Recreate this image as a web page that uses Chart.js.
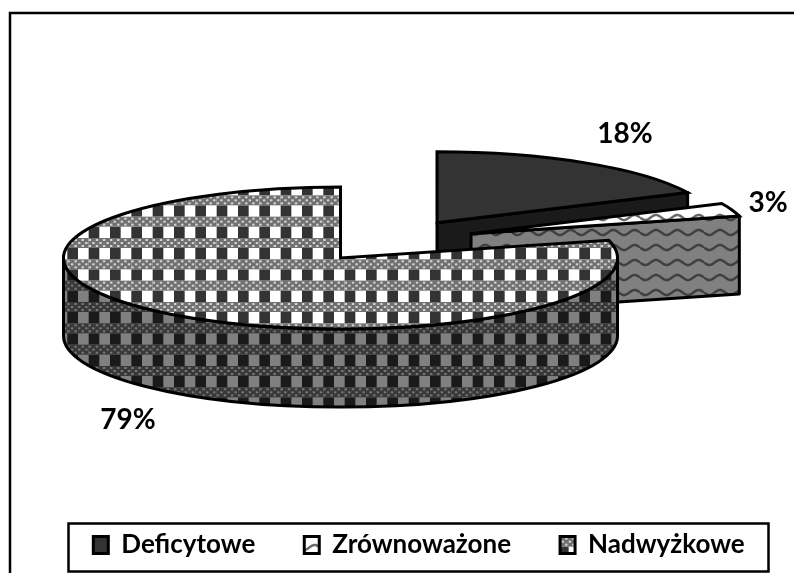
<!DOCTYPE html>
<html lang="pl">
<head>
<meta charset="utf-8">
<title>Deficytowe / Zrównoważone / Nadwyżkowe</title>
<script src="https://cdn.jsdelivr.net/npm/chart.js@4"></script>
<style>
    html, body { margin: 0; padding: 0; background: #fff; overflow: hidden; }
    canvas { display: block; }
</style>
</head>
<body>
<canvas id="pie3d" width="794" height="573"></canvas>
<script>
// Dane
const categories = ['Deficytowe', 'Zrównoważone', 'Nadwyżkowe'];
const shares = [18, 3, 79];

// Uklad "3D" (w pikselach)
const pieCenter = { x: 392, y: 241 };
const pieRadius = 277;
const squash = 71 / 277;
const wallDepth = 78;
const explode = 84;
const outline = 3;
const labelAnchors = [[625, 134], [768, 203], [128, 420]];
const labelFont = 'bold 28px Lato';
const legendTop = 483;
const legendShift = 22;

// Tekstura: kratka z kropkowanymi pasami
function checkTile(darkColor, lightColor, bandDark, bandLight) {
    const c = document.createElement('canvas');
    c.width = 64;
    c.height = 64;
    const g = c.getContext('2d');
    const step = 64 / 3;
    g.translate(3.33, 3.33);
    g.fillStyle = lightColor;
    g.fillRect(-64, -64, 192, 192);
    for (let r = -1; r < 4; r++) {
        for (let q = -1; q < 4; q++) {
            g.fillStyle = darkColor;
            g.fillRect(q * step, r * step + 10, step / 2, step - 10);
            g.fillStyle = bandDark;
            g.fillRect(q * step, r * step, step, 10);
            g.fillStyle = bandLight;
            for (let k = 0; k < 3; k++) {
                for (let d = 0; d < 3; d++) {
                    g.fillRect(q * step + d * step / 3 + (k % 2 ? step / 6 : 0), r * step + 1 + k * 3, 2.4, 2);
                }
            }
        }
    }
    return document.createElement('canvas').getContext('2d').createPattern(c, 'repeat');
}

// Tekstura: fala
function waveTile(bgColor, lineColor) {
    const c = document.createElement('canvas');
    c.width = 64;
    c.height = 45;
    const g = c.getContext('2d');
    g.fillStyle = bgColor;
    g.fillRect(0, 0, 64, 45);
    g.strokeStyle = lineColor;
    g.lineWidth = 2.5;
    for (let r = 0; r < 3; r++) {
        g.beginPath();
        for (let x = 0; x <= 64; x += 2) {
            g.lineTo(x, 7.5 + r * 15 + 2.6 * Math.sin(x * Math.PI * 6 / 64));
        }
        g.stroke();
    }
    return document.createElement('canvas').getContext('2d').createPattern(c, 'repeat');
}

const topFills = ['#333333', waveTile('#ffffff', '#6a6a6a'), checkTile('#333333', '#ffffff', '#707070', '#d4d4d4')];
const sideFills = ['#1a1a1a', waveTile('#808080', '#404040'), checkTile('#1a1a1a', '#808080', '#383838', '#777777')];

// Wypelnia i obrysowuje biezaca sciezke bez splaszczenia (tekstura i kreska w pikselach ekranu)
function paintFlat(ctx, fill) {
    ctx.save();
    ctx.setTransform(1, 0, 0, 1, 0, 0);
    ctx.fillStyle = fill;
    ctx.strokeStyle = '#000';
    ctx.lineWidth = outline;
    ctx.lineJoin = 'round';
    ctx.fill();
    ctx.stroke();
    ctx.restore();
}

// Sciany boczne wycinka, z geometrii elementu luku
function drawWalls(ctx, arc, fill) {
    const { x, y, startAngle, endAngle, outerRadius } = arc;
    const drop = wallDepth / squash;

    // sciana zewnetrzna, tylko przednia polowa elipsy
    const from = Math.max(startAngle, 0);
    const to = Math.min(endAngle, Math.PI);
    if (to > from) {
        ctx.beginPath();
        ctx.arc(x, y, outerRadius, from, to);
        ctx.arc(x, y + drop, outerRadius, to, from, true);
        ctx.closePath();
        paintFlat(ctx, fill);
    }

    // sciana promieniowa na koncu wycinka
    if (Math.cos(endAngle) > 1e-6) {
        const ex = x + Math.cos(endAngle) * outerRadius;
        const ey = y + Math.sin(endAngle) * outerRadius;
        ctx.beginPath();
        ctx.moveTo(x, y);
        ctx.lineTo(ex, ey);
        ctx.lineTo(ex, ey + drop);
        ctx.lineTo(x, y + drop);
        ctx.closePath();
        paintFlat(ctx, fill);
    }
}

const pie3d = {
    id: 'pie3d',
    afterLayout(chart) {
        // legenda ma duzy odstep miedzy pozycjami, wiec ustawiamy ja recznie
        chart.legend.top = legendTop;
        chart.legend.left += legendShift;
        chart.legend.right += legendShift;
    },
    beforeDraw(chart) {
        const ctx = chart.ctx;
        ctx.save();
        ctx.strokeStyle = '#000';
        ctx.lineWidth = 2.5;
        // ramka wykresu (ucieta z prawej i od dolu)
        ctx.beginPath();
        ctx.moveTo(10, 580);
        ctx.lineTo(10, 13);
        ctx.lineTo(800, 13);
        ctx.stroke();
        // ramka legendy
        ctx.strokeRect(68.5, 523.5, 700, 48);
        ctx.restore();
    },
    beforeDatasetDraw(chart, args) {
        const ctx = chart.ctx;
        const arcs = args.meta.data;
        arcs.forEach((arc, i) => {
            const mid = (arc.startAngle + arc.endAngle) / 2;
            ctx.save();
            ctx.translate(pieCenter.x + Math.cos(mid) * explode, pieCenter.y + Math.sin(mid) * explode * squash);
            ctx.scale(1, squash);
            ctx.translate(-arc.x, -arc.y);

            drawWalls(ctx, arc, sideFills[i]);

            // wierzch rysuje sam element; fill i stroke juz bez splaszczenia
            const fill = ctx.fill;
            const stroke = ctx.stroke;
            ctx.fill = function () {
                ctx.save();
                ctx.setTransform(1, 0, 0, 1, 0, 0);
                fill.apply(ctx, arguments);
                ctx.restore();
            };
            ctx.stroke = function () {
                ctx.save();
                ctx.setTransform(1, 0, 0, 1, 0, 0);
                stroke.apply(ctx, arguments);
                ctx.restore();
            };
            arc.draw(ctx);
            delete ctx.fill;
            delete ctx.stroke;
            ctx.restore();
        });
        return false;
    },
    afterDatasetsDraw(chart) {
        const ctx = chart.ctx;
        ctx.save();
        ctx.fillStyle = '#000';
        ctx.font = labelFont;
        ctx.textAlign = 'center';
        ctx.textBaseline = 'middle';
        shares.forEach((v, i) => {
            ctx.fillText(v + '%', labelAnchors[i][0], labelAnchors[i][1]);
        });
        ctx.restore();
    }
};

new Chart(document.getElementById('pie3d'), {
    type: 'pie',
    data: {
        labels: categories,
        datasets: [{
            data: shares,
            backgroundColor: topFills,
            borderColor: '#000',
            borderWidth: outline,
            borderJoinStyle: 'miter',
            radius: pieRadius
        }]
    },
    options: {
        responsive: false,
        animation: false,
        plugins: {
            tooltip: { enabled: false },
            legend: {
                position: 'bottom',
                labels: {
                    color: '#000',
                    font: { family: 'Lato', size: 26, weight: 'bold' },
                    boxWidth: 15,
                    boxHeight: 17,
                    padding: 49
                }
            }
        }
    },
    plugins: [pie3d]
});
</script>
</body>
</html>
